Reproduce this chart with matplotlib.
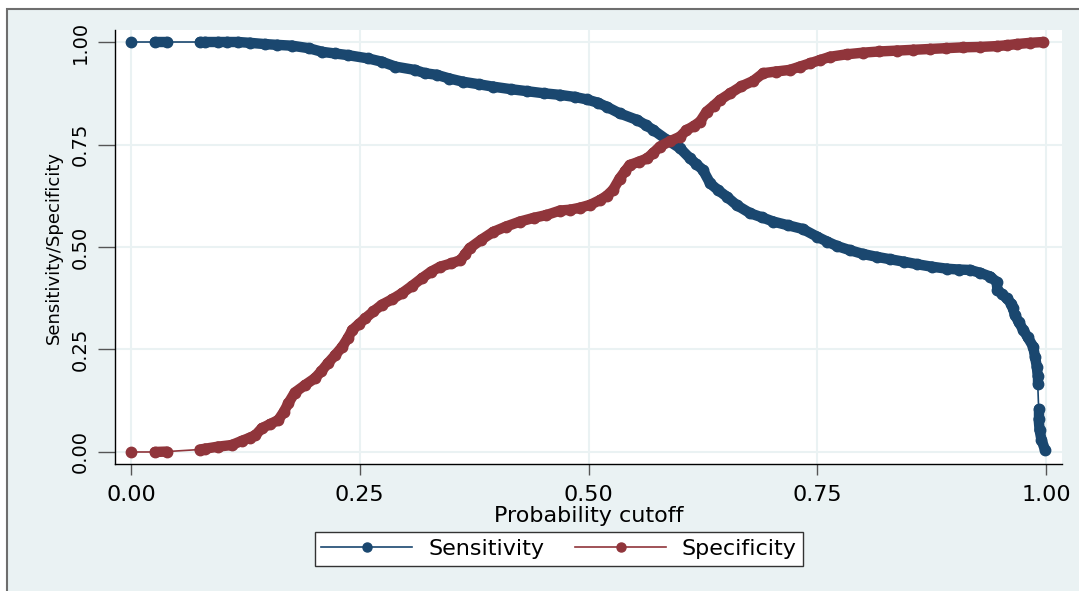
import numpy as np
import matplotlib.pyplot as plt
from matplotlib.collections import LineCollection
from matplotlib.patches import Rectangle

# values (probability cutoff vs. rate)
cutoff_sens = [0.000, 0.026, 0.039, 0.075, 0.081, 0.095, 0.105, 0.117, 0.130, 0.146,
               0.160, 0.176, 0.194, 0.209, 0.223, 0.237, 0.259, 0.274, 0.289, 0.310,
               0.321, 0.334, 0.348, 0.363, 0.380, 0.396, 0.415, 0.433, 0.451, 0.469,
               0.485, 0.498, 0.510, 0.520, 0.534, 0.553, 0.563, 0.571, 0.586, 0.600,
               0.611, 0.618, 0.625, 0.633, 0.642, 0.651, 0.662, 0.677, 0.690, 0.702,
               0.718, 0.734, 0.750, 0.761, 0.772, 0.786, 0.800, 0.815, 0.830, 0.845,
               0.859, 0.875, 0.892, 0.905, 0.917, 0.928, 0.939, 0.946, 0.947, 0.952,
               0.957, 0.962, 0.964, 0.966, 0.970, 0.975, 0.980, 0.986, 0.988, 0.990,
               0.991, 0.991, 0.992, 0.992, 0.993, 0.995, 0.999]
sensitivity = [1.000, 1.000, 1.000, 1.000, 1.000, 1.000, 1.000, 1.000, 0.998, 0.995,
               0.993, 0.991, 0.985, 0.976, 0.972, 0.968, 0.960, 0.952, 0.940, 0.932,
               0.924, 0.920, 0.911, 0.903, 0.897, 0.891, 0.885, 0.880, 0.875, 0.871,
               0.866, 0.860, 0.852, 0.842, 0.826, 0.810, 0.797, 0.785, 0.761, 0.741,
               0.716, 0.702, 0.688, 0.655, 0.638, 0.623, 0.602, 0.582, 0.572, 0.562,
               0.553, 0.544, 0.525, 0.513, 0.502, 0.492, 0.483, 0.476, 0.470, 0.464,
               0.458, 0.452, 0.447, 0.445, 0.444, 0.437, 0.428, 0.415, 0.395, 0.385,
               0.375, 0.362, 0.350, 0.334, 0.318, 0.298, 0.280, 0.257, 0.232, 0.208,
               0.185, 0.165, 0.105, 0.080, 0.054, 0.030, 0.005]

cutoff_spec = [0.000, 0.026, 0.039, 0.075, 0.081, 0.095, 0.110, 0.121, 0.130, 0.136,
               0.143, 0.152, 0.161, 0.167, 0.172, 0.179, 0.190, 0.201, 0.208, 0.215,
               0.223, 0.231, 0.237, 0.242, 0.249, 0.256, 0.265, 0.274, 0.285, 0.296,
               0.307, 0.318, 0.328, 0.338, 0.350, 0.360, 0.365, 0.370, 0.383, 0.396,
               0.410, 0.425, 0.440, 0.454, 0.469, 0.480, 0.491, 0.502, 0.513, 0.520,
               0.527, 0.534, 0.540, 0.545, 0.555, 0.564, 0.571, 0.578, 0.589, 0.600,
               0.607, 0.615, 0.622, 0.629, 0.637, 0.644, 0.655, 0.667, 0.680, 0.691,
               0.705, 0.720, 0.731, 0.742, 0.753, 0.764, 0.782, 0.800, 0.818, 0.837,
               0.855, 0.873, 0.891, 0.909, 0.928, 0.946, 0.957, 0.968, 0.983, 0.997]
specificity = [0.000, 0.000, 0.001, 0.006, 0.008, 0.013, 0.017, 0.027, 0.035, 0.041,
               0.058, 0.068, 0.078, 0.098, 0.119, 0.145, 0.163, 0.180, 0.197, 0.216,
               0.236, 0.257, 0.278, 0.298, 0.312, 0.326, 0.343, 0.359, 0.372, 0.387,
               0.405, 0.424, 0.440, 0.452, 0.460, 0.468, 0.482, 0.497, 0.518, 0.537,
               0.550, 0.562, 0.571, 0.578, 0.589, 0.591, 0.596, 0.603, 0.615, 0.625,
               0.640, 0.667, 0.685, 0.700, 0.708, 0.716, 0.730, 0.745, 0.758, 0.769,
               0.785, 0.795, 0.806, 0.830, 0.845, 0.859, 0.875, 0.892, 0.905, 0.924,
               0.928, 0.932, 0.940, 0.948, 0.956, 0.964, 0.970, 0.974, 0.977, 0.979,
               0.981, 0.983, 0.985, 0.987, 0.988, 0.990, 0.992, 0.995, 0.998, 1.000]

ticks = [0, 0.25, 0.5, 0.75, 1.0]

BLUE = '#1a476f'
RED = '#90353b'
BG = '#eaf2f3'

fig = plt.figure(figsize=(10.79, 5.91), dpi=100, facecolor='white')
# stata style outer frame
fig.patches.append(Rectangle((7 / 1079, -0.1), 1.2, 1 - 9 / 591 + 0.1, transform=fig.transFigure,
                             facecolor=BG, edgecolor='#6e6e6e', lw=1.5, zorder=-5))

ax = fig.add_axes([115 / 1079, 127 / 591, 947 / 1079, 434 / 591])
ax.set_zorder(1)
ax.set_facecolor('white')
ax.set_xlim(-0.0175, 1.0175)
ax.set_ylim(-0.0293, 1.0293)


def draw(x, y, color, label):
    ax.plot(x, y, color=color, lw=1.2, marker='o', ms=7.5, mfc=color, mec=color,
            label=label, zorder=3)
    # dense runs of markers blend into a thick band
    pts = np.column_stack([x, y])
    disp = ax.transData.transform(pts)
    gaps = np.hypot(*np.diff(disp, axis=0).T)
    segs = [[pts[i], pts[i + 1]] for i in np.where(gaps < 22)[0]]
    ax.add_collection(LineCollection(segs, colors=color, linewidths=7.5,
                                     capstyle='round', joinstyle='round', zorder=3))


draw(cutoff_sens, sensitivity, BLUE, 'Sensitivity')
draw(cutoff_spec, specificity, RED, 'Specificity')

ax.set_xticks(ticks)
ax.set_yticks(ticks)
ax.set_xticklabels([f'{t:.2f}' for t in ticks], fontsize=16)
ax.set_yticklabels([f'{t:.2f}' for t in ticks], fontsize=14, rotation=90, va='center')
ax.tick_params(axis='x', length=8, width=1, color='#555555', pad=7)
ax.tick_params(axis='y', length=12, width=1, color='#555555', pad=6)
ax.grid(True, color=BG, lw=1.5)
ax.set_axisbelow(True)
for s in ['top', 'right']:
    ax.spines[s].set_visible(False)
for s in ['left', 'bottom']:
    ax.spines[s].set_color('black')
    ax.spines[s].set_linewidth(1)

ax.set_xlabel('Probability cutoff', fontsize=16, labelpad=1)
ax.set_ylabel('Sensitivity/Specificity', fontsize=13, labelpad=6)

leg = fig.legend(loc='center', bbox_to_anchor=(559 / 1079, 1 - 549 / 591), ncol=2,
                 fontsize=16, frameon=True, fancybox=False, framealpha=1,
                 handlelength=4.1, handletextpad=0.7, columnspacing=1.4, borderpad=0.3)
leg.get_frame().set_edgecolor('#333333')
leg.get_frame().set_linewidth(1)
for h in leg.legend_handles:
    h.set_markersize(6.5)

fig.savefig('out.png', dpi=100, facecolor=fig.get_facecolor())
